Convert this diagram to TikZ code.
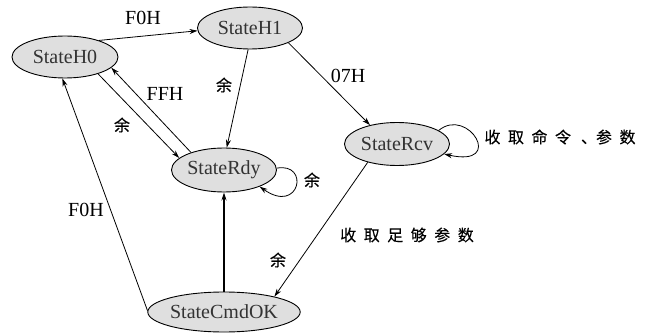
\documentclass[tikz,border=0pt]{standalone}
\usepackage{fontspec}
\setmainfont{Liberation Serif}
\newfontfamily\cjk[FakeBold=0.3]{Noto Sans CJK SC}
\usetikzlibrary{shapes.geometric,arrows.meta}
\newcommand\zs{\hspace{7.5pt}}
\begin{document}
\begin{tikzpicture}[x=1pt,y=1pt,
  st/.style={ellipse,draw,line width=0.9pt,fill=gray!25,inner sep=0pt,minimum height=42pt,font=\fontsize{20}{24}\selectfont,text=black!80},
  tr/.style={line width=0.8pt,-{Stealth[length=8pt,width=5pt]}},
  lb/.style={font=\fontsize{20}{24}\selectfont,inner sep=0pt},
  zh/.style={font=\fontsize{16}{19}\selectfont\cjk,inner sep=0pt}]
\useasboundingbox (0,0) rectangle (648,-334);
\node[st,minimum width=106pt] (H0) at (65,-57) {StateH0};
\node[st,minimum width=105pt] (H1) at (250,-28) {StateH1};
\node[st,minimum width=105pt,minimum height=44pt] (Rdy) at (224,-170) {StateRdy};
\node[st,minimum width=105pt,minimum height=43pt] (Rcv) at (397,-144) {StateRcv};
\node[st,minimum width=138pt,minimum height=40pt] (Cmd) at (224,-312) {StateCmdOK};

\draw[tr] (H0.26) -- (H1.183);
\draw[tr] (H1.265) -- (Rdy.83);
\draw[tr] (H1.-21) -- (Rcv.145);
\draw[tr] (H0.-27) -- (Rdy.165);
\draw[tr] (Rdy.152) -- (H0.-13);
\draw[tr] (Rcv.212) -- (Cmd.17);
\draw[tr] (Cmd.179) -- (H0.263);
\draw[line width=1.5pt,-{Stealth[length=8pt,width=5pt]}] (Cmd.90) -- (Rdy.-90);
\draw[tr] (Rdy.2) .. controls (310,-162) and (300,-215) .. (Rdy.-25);
\draw[tr] (Rcv.18) .. controls (468,-106) and (506,-168) .. (Rcv.-12);

\node[lb] (l1) at (143,-18) {F0H};
\node[zh] (l2) at (224,-85) {余};
\node[lb] (l3) at (165,-94) {FFH};
\node[zh] (l4) at (122,-125) {余};
\node[lb] (l5) at (348,-76) {07H};
\node[zh] (l6) at (560,-137) {收\zs{}取\zs{}命\zs{}令\hspace{10pt}、\hspace{-1pt}参\zs{}数};
\node[zh] (l7) at (278,-260) {余};
\node[zh] (l8) at (407,-235) {收\zs{}取\zs{}足\zs{}够\zs{}参\zs{}数};
\node[lb] (l9) at (86,-210) {F0H};
\node[zh] (l10) at (312,-180) {余};
\end{tikzpicture}
\end{document}
